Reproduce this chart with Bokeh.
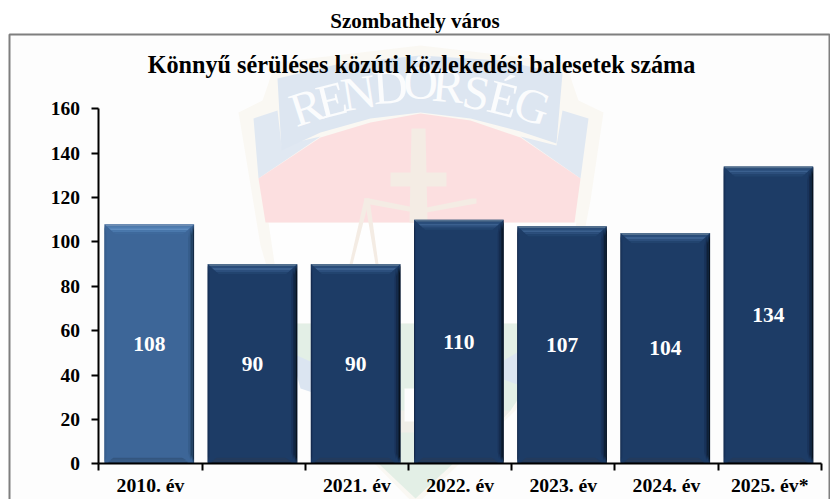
from bokeh.plotting import figure
from bokeh.models import LinearAxis, FixedTicker, Range1d
from bokeh.core.properties import value
from bokeh.embed import file_html
from bokeh.resources import INLINE

categories = ["2010. év", "", "2021. év", "2022. év", "2023. év", "2024. év", "2025. év*"]
counts = [108, 90, 90, 110, 107, 104, 134]
y_ticks = [0, 20, 40, 60, 80, 100, 120, 140, 160]
page_title = "Szombathely város"
chart_title = "Könnyű sérüléses közúti közlekedési balesetek száma"
watermark_letters = list("RENDŐRSÉG")

FONT = "Liberation Serif"
W, H = 830, 499
X0, Y0, SX, SY = 98.4, 463.3, 103.2, 2.219   # pixel of the origin, px per unit


def dx(px):
    return (px - X0) / SX


def dy(py):
    return (Y0 - py) / SY


p = figure(width=W, height=H, output_backend="svg", toolbar_location=None,
           x_range=Range1d(dx(0), dx(W)), y_range=Range1d(dy(H), dy(0)),
           x_axis_type=None, y_axis_type=None, min_border=0,
           background_fill_color="white", border_fill_color="white")
p.grid.visible = False
p.outline_line_color = None


def poly(points, color):
    p.patch([dx(a) for a, _ in points], [dy(b) for _, b in points],
            fill_color=color, line_color=None)


# panel
poly([(9, 34), (829, 34), (829, 510), (9, 510)], "#fdfdfd")

# watermark
poly([(238, 112), (262, 100), (275, 62), (420, 45), (565, 62), (578, 100), (603, 112), (590, 200),
      (578, 262), (556, 323), (515, 410), (415, 505), (322, 410), (283, 323), (260, 245)], "#faf8f3")
poly([(268, 222), (576, 222), (556, 323), (283, 323)], "#fefefe")
poly([(253, 118), (277, 110), (281, 145), (320, 136), (258, 178)], "#e0e8f2")
poly([(588, 118), (562, 110), (556, 145), (520, 136), (580, 178)], "#e0e8f2")
poly([(258, 178), (320, 137), (370, 122), (420, 113), (470, 120), (520, 137), (580, 178),
      (574, 222), (265, 222)], "#fcdfe0")
poly([(277, 78), (340, 63), (420, 55), (500, 60), (562, 73), (556, 143), (520, 131), (470, 118),
      (420, 112), (370, 118), (320, 132), (281, 150)], "#dde6f1")
poly([(283, 323), (556, 323), (540, 365), (510, 410), (415, 498), (322, 410), (298, 365)], "#e3efe6")
poly([(322, 410), (510, 410), (490, 432), (340, 432)], "#efeee8")
poly([(290, 352), (312, 362), (312, 392), (300, 388)], "#dbe5f1")
poly([(500, 362), (520, 350), (530, 352), (520, 385), (500, 378)], "#dbe5f1")
poly([(404, 388), (414, 388), (414, 421), (404, 421)], "#fdfdfd")

# cross and scales
for pts in ([(411, 128), (425, 128), (427, 222), (409, 222)],
            [(390, 172), (446, 172), (446, 186), (390, 186)],
            [(364, 198), (369, 198), (414, 207), (414, 212), (364, 203)],
            [(364, 198), (369, 198), (352, 264), (349, 264)],
            [(364, 198), (369, 198), (378, 264), (375, 264)],
            [(476, 198), (471, 198), (426, 207), (426, 212), (476, 203)]):
    poly(pts, "#f4ece4")

# banner lettering
letter_x = [306, 331, 358, 390, 420, 448, 476, 503, 532]
letter_y = [106, 99, 92, 86, 82, 85, 92, 98, 105]
letter_a = [18, 14, 9, 4, 0, -5, -10, -14, -19]
for ch, a, b, ang in zip(watermark_letters, letter_x, letter_y, letter_a):
    p.text([dx(a)], [dy(b)], text=[ch], angle=ang, angle_units="deg", text_align="center",
           text_baseline="middle", text_font=value(FONT), text_font_size="48px", text_color="#fbfcfd")

# frame
p.line([dx(9), dx(9), dx(829), dx(829)], [dy(510), dy(34), dy(34), dy(510)],
       line_color="#7f7f7f", line_width=2)

# bars
BAR_W = 89.6 / SX
SHIFT = -0.012
centers = [i + 0.5 + SHIFT for i in range(len(counts))]
base_colors = ["#3d6698"] + ["#1d3c66"] * 6
p.vbar(x=centers, top=counts, bottom=0, width=BAR_W, fill_color=base_colors, line_color=None)

px_x, px_y = 1 / SX, 1 / SY


def strip_sets(c, v, top_cols, right_cols, bottom_cols, left_cols):
    l, r = c - BAR_W / 2, c + BAR_W / 2
    for i, col in enumerate(right_cols):
        a, b = i * 1.5, (i + 1) * 1.5
        p.patch([r - a * px_x, r - b * px_x, r - b * px_x, r - a * px_x],
                [v - a * px_y, v - (b + 8) * px_y, (b + 6) * px_y, a * px_y], fill_color=col, line_color=None)
    for i, col in enumerate(left_cols):
        a, b = i * 1.0, (i + 1) * 1.0
        p.patch([l + a * px_x, l + b * px_x, l + b * px_x, l + a * px_x],
                [v - a * px_y, v - (b + 8) * px_y, (b + 6) * px_y, a * px_y], fill_color=col, line_color=None)
    for i, col in enumerate(bottom_cols):
        a, b = i * 2.0, (i + 1) * 2.0
        p.patch([l + (a + 2) * px_x, r - (a + 4) * px_x, r - (b + 6) * px_x, l + (b + 3) * px_x],
                [a * px_y, a * px_y, b * px_y, b * px_y], fill_color=col, line_color=None)
    for i, col in enumerate(top_cols):
        a, b = i * 2.0, (i + 1) * 2.0
        p.patch([l + a * 1.1 * px_x, r - a * 1.1 * px_x, r - b * 1.1 * px_x, l + b * 1.1 * px_x],
                [v - a * px_y, v - a * px_y, v - b * px_y, v - b * px_y], fill_color=col, line_color=None)


for i, (c, v) in enumerate(zip(centers, counts)):
    if i == 0:
        strip_sets(c, v, ["#6d8db3", "#4f7db0", "#5f8dc0", "#4a78ac", "#3f6a9c"],
                   ["#152b45", "#21405f", "#2d5078", "#375e8c"], ["#2f4f76", "#3a5c86", "#34567f"],
                   ["#31557f", "#3a6192"])
    else:
        strip_sets(c, v, ["#53708f", "#2a4d7a", "#3b608f", "#2c4f7d", "#22446f"],
                   ["#08121f", "#0e2036", "#14294a", "#19335a"], ["#1a2f4c", "#293c59", "#233a5c"],
                   ["#15294a", "#1a3660"])

# value labels
p.text(x=centers, y=[v / 2 for v in counts], text=[str(v) for v in counts], text_align="center",
       text_baseline="middle", text_font=value(FONT), text_font_style="bold", text_font_size="21.5px",
       text_color="white")

# titles
p.text([dx(414.5)], [dy(20)], text=[page_title], text_align="center", text_baseline="middle",
       text_font=value(FONT), text_font_style="bold", text_font_size="21px", text_color="black")
p.text([dx(421)], [dy(64)], text=[chart_title], text_align="center", text_baseline="middle",
       text_font=value(FONT), text_font_style="bold", text_font_size="24.2px", text_color="black")

# axes
yaxis = LinearAxis(fixed_location=0, ticker=FixedTicker(ticks=y_ticks), bounds=(0, 160),
                   major_tick_in=0, major_tick_out=7, minor_tick_line_color=None,
                   axis_line_color="black", axis_line_width=2, major_tick_line_color="black",
                   major_tick_line_width=2, major_label_standoff=12,
                   major_label_text_font=FONT, major_label_text_font_style="bold",
                   major_label_text_font_size="19.5px", major_label_text_color="black")
p.add_layout(yaxis, "left")

xaxis = LinearAxis(fixed_location=0, ticker=FixedTicker(ticks=list(range(len(categories) + 1))),
                   bounds=(0, len(categories)), major_tick_in=0, major_tick_out=7,
                   minor_tick_line_color=None, axis_line_color="black", axis_line_width=2,
                   major_tick_line_color="black", major_tick_line_width=2,
                   major_label_text_font_size="0px",
                   major_label_overrides={i: "" for i in range(len(categories) + 1)})
p.add_layout(xaxis, "below")

label_axis = LinearAxis(fixed_location=0, ticker=FixedTicker(ticks=[i + 0.5 for i in range(len(categories))]),
                        major_label_overrides={i + 0.5: c for i, c in enumerate(categories)},
                        axis_line_color=None, major_tick_line_color=None, minor_tick_line_color=None,
                        major_tick_in=0, major_tick_out=0, major_label_standoff=10,
                        major_label_text_font=FONT, major_label_text_font_style="bold",
                        major_label_text_font_size="19.7px", major_label_text_color="black")
p.add_layout(label_axis, "below")

open("out.html", "w").write(file_html(p, INLINE))
